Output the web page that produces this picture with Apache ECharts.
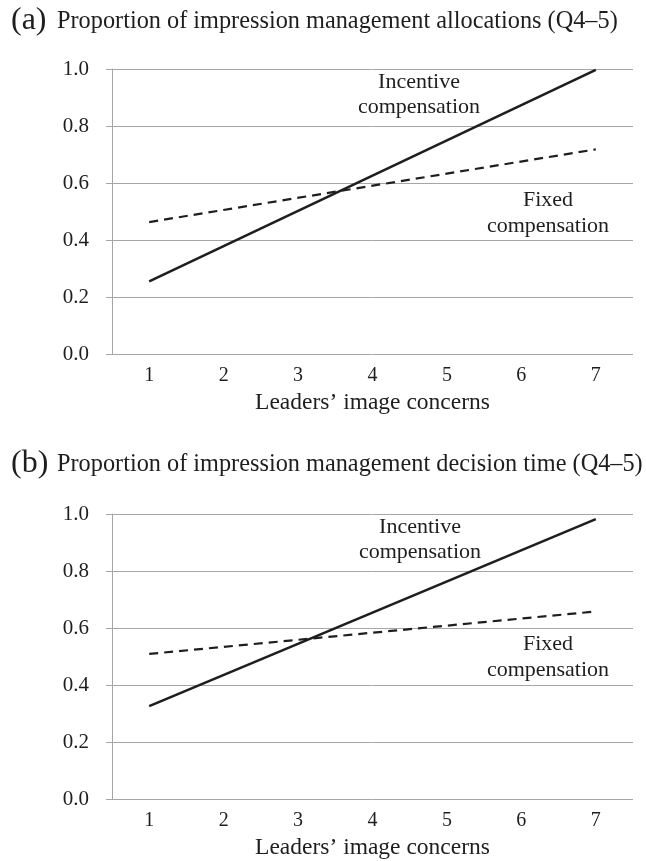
<!DOCTYPE html>
<html>
<head>
<meta charset="utf-8">
<style>
  html, body { margin: 0; padding: 0; background: #fff; }
  #main { width: 646px; height: 861px; }
</style>
<script src="https://cdn.jsdelivr.net/npm/echarts@6/dist/echarts.min.js"></script>
</head>
<body>
<div id="main"></div>
<script>
// categories on the x axis
var concerns = ['1', '2', '3', '4', '5', '6', '7'];
// lines only run between level 1 and level 7
var ends = ['1', '7'];
// (a) allocations
var aIncentive = [0.255, 0.997];
var aFixed = [0.463, 0.718];
// (b) decision time
var bIncentive = [0.326, 0.982];
var bFixed = [0.509, 0.658];

var FONT = '"Liberation Serif", "DejaVu Serif", serif';
var INK = '#1e1e1e';
var GRID = '#a6a6a6';

function pairs(vals) {
    return ends.map(function (c, i) { return [c, vals[i]]; });
}

function xAxisFor(idx) {
    return {
        type: 'category',
        gridIndex: idx,
        data: concerns,
        boundaryGap: true,
        name: 'Leaders\u2019 image concerns',
        nameLocation: 'middle',
        nameGap: 37,
        nameTextStyle: { fontFamily: FONT, fontSize: 23.5, color: INK },
        axisLine: { show: false },
        axisTick: { show: false },
        axisLabel: { fontFamily: FONT, fontSize: 20, color: INK, margin: 12 }
    };
}

function yAxisFor(idx) {
    return {
        type: 'value',
        gridIndex: idx,
        min: 0,
        max: 1,
        interval: 0.2,
        axisLine: { show: true, lineStyle: { color: GRID, width: 1 } },
        axisTick: { show: true, length: 6, lineStyle: { color: GRID } },
        splitLine: { show: true, lineStyle: { color: GRID, width: 1 } },
        axisLabel: {
            fontFamily: FONT, fontSize: 21, color: INK, margin: 23,
            formatter: function (v) { return v.toFixed(1); }
        }
    };
}

function lineSeries(idx, vals, dashed) {
    return {
        type: 'line',
        xAxisIndex: idx,
        yAxisIndex: idx,
        data: pairs(vals),
        symbol: 'none',
        silent: true,
        animation: false,
        lineStyle: {
            color: INK,
            width: dashed ? 2.2 : 2.6,
            type: dashed ? [9, 6] : 'solid'
        }
    };
}

function note(x, y, txt) {
    return {
        type: 'text', x: x, y: y,
        style: { text: txt, fontFamily: FONT, fontSize: 22, fill: INK, align: 'center', verticalAlign: 'middle' }
    };
}

function heading(y, tag, txt) {
    return [{
        type: 'text', x: 11, y: y,
        style: { text: tag, fontFamily: FONT, fontSize: 32, fill: INK, verticalAlign: 'middle' }
    }, {
        type: 'text', x: 57, y: y + 1,
        style: { text: txt, fontFamily: FONT, fontSize: 24.3, fill: INK, verticalAlign: 'middle' }
    }];
}

var chart = echarts.init(document.getElementById('main'));
chart.setOption({
    backgroundColor: '#fff',
    animation: false,
    grid: [
        { left: 112, right: 13, top: 69, height: 285, outerBoundsMode: 'none' },
        { left: 112, right: 13, top: 514, height: 285, outerBoundsMode: 'none' }
    ],
    xAxis: [xAxisFor(0), xAxisFor(1)],
    yAxis: [yAxisFor(0), yAxisFor(1)],
    series: [
        lineSeries(0, aIncentive, false),
        lineSeries(0, aFixed, true),
        lineSeries(1, bIncentive, false),
        lineSeries(1, bFixed, true)
    ],
    graphic: [].concat(
        heading(21, '(a)', 'Proportion of impression management allocations (Q4\u20135)'),
        heading(464, '(b)', 'Proportion of impression management decision time (Q4\u20135)'),
        [
            note(419, 82, 'Incentive'),
            note(419, 107, 'compensation'),
            note(548, 200, 'Fixed'),
            note(548, 226, 'compensation'),
            note(420, 527, 'Incentive'),
            note(420, 552, 'compensation'),
            note(548, 644, 'Fixed'),
            note(548, 670, 'compensation')
        ]
    )
});
</script>
</body>
</html>
